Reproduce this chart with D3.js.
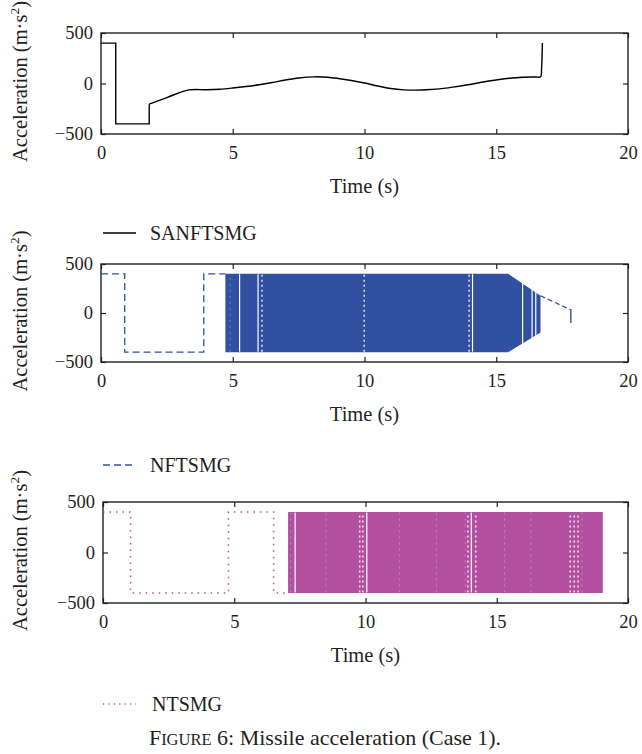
<!DOCTYPE html>
<html><head><meta charset="utf-8">
<script src="https://cdn.jsdelivr.net/npm/d3@7/dist/d3.min.js"></script>
<style>
html,body{margin:0;padding:0;background:#fff;}
svg text{font-family:"Liberation Serif","Times New Roman","DejaVu Serif",serif;fill:#231f20;}
</style></head>
<body><svg id="c" width="642" height="754"></svg>
<script>
// ---------- data ----------
const xTicks = [0, 5, 10, 15, 20];
const yTicks = [-500, 0, 500];
const xTitle = "Time (s)";
const seriesNames = ["SANFTSMG", "NFTSMG", "NTSMG"];

// SANFTSMG (smooth)
const sanTime  = [0, 0.56, 0.56, 1.83, 1.83, 2.5, 3.33, 4.0, 4.5, 5.0, 5.5, 6.0, 6.5, 7.0, 7.5, 8.1, 8.6, 9.0, 9.5, 10.0, 10.5, 11.0, 11.5, 11.9, 12.5, 13.0, 13.5, 14.0, 14.5, 15.0, 15.5, 16.0, 16.5, 16.68, 16.72, 16.75];
const sanAccel = [400, 400, -400, -400, -205, -139, -63, -62, -57, -45, -30, -12, 10, 35, 55, 66, 62, 50, 30, 5, -25, -50, -63, -66, -60, -48, -30, -10, 15, 35, 52, 62, 65, 66, 150, 400];

// NFTSMG
const nfPreTime   = [0, 0.9, 0.9, 3.9, 3.9, 4.72];
const nfPreAccel  = [400, 400, -400, -400, 400, 400];
const nfBandTime  = [4.72, 15.45, 16.68];
const nfBandUpper = [400, 400, 176];
const nfBandLower = [-400, -400, -199];
const nfTailTime  = [16.68, 17.83];
const nfTailAccel = [176, 32];
const nfSpikeTime  = [17.83, 17.83];
const nfSpikeAccel = [42, -103];
const nfGapTime   = [4.9, 5.26, 5.96, 6.11, 9.99, 13.97, 14.1, 16.0, 16.36, 16.5];
const nfGapKind   = ["faint", "line", "line", "dots", "dots", "dots", "line", "line", "line", "line"];

// NTSMG
const ntPreTime  = [0, 1.05, 1.05, 4.78, 4.78, 6.5, 6.5, 7.05];
const ntPreAccel = [400, 400, -400, -400, 400, 400, -400, -400];
const ntBandTime  = [7.05, 19.04];
const ntBandUpper = [400, 400];
const ntBandLower = [-400, -400];
const ntGapTime = [7.15, 7.32, 9.78, 9.9, 10.05, 13.8, 13.9, 14.03, 14.2, 17.8, 17.95, 18.1, 18.25, 8.5, 11.3, 12.7, 15.3, 16.3];
const ntGapKind = ["faint", "line", "dots", "dots", "line", "faint", "dots", "line", "dots", "dots", "dots", "dots", "faint", "faint", "faint", "faint", "faint", "faint"];

const caption = "Missile acceleration (Case 1).";

// ---------- layout ----------
const blue = "#3150a1", magenta = "#b24f9f";
const svg = d3.select("#c");
const panels = [
  {left: 101, right: 628, top: 33, bottom: 134},
  {left: 101, right: 628, top: 264, bottom: 362},
  {left: 103, right: 628, top: 502, bottom: 603}
];
const serif = "'Liberation Serif','Times New Roman','DejaVu Serif',serif";

function drawFrame(p) {
  const x = d3.scaleLinear().domain([0, 20]).range([p.left, p.right]);
  const y = d3.scaleLinear().domain([-500, 500]).range([p.bottom, p.top]);
  const g = svg.append("g");
  const fmt = d => d < 0 ? "\u2212" + Math.abs(d) : String(d);
  const ax = (gen, tr) => {
    const a = g.append("g").attr("transform", tr).call(gen).attr("font-family", serif);
    a.select(".domain").remove();
    a.selectAll("line").attr("stroke", "#231f20").attr("stroke-width", 1.2);
    a.selectAll("text").attr("font-size", 18.5).attr("font-family", serif).attr("fill", "#231f20");
    return a;
  };
  ax(d3.axisBottom(x).tickValues(xTicks).tickSizeInner(-5).tickSizeOuter(0).tickPadding(12).tickFormat(fmt), `translate(0,${p.bottom})`);
  ax(d3.axisTop(x).tickValues(xTicks).tickSizeInner(-5).tickSizeOuter(0).tickFormat(""), `translate(0,${p.top})`);
  ax(d3.axisLeft(y).tickValues(yTicks).tickSizeInner(-5).tickSizeOuter(0).tickPadding(8).tickFormat(fmt), `translate(${p.left},0)`);
  ax(d3.axisRight(y).tickValues(yTicks).tickSizeInner(-5).tickSizeOuter(0).tickFormat(""), `translate(${p.right},0)`);
  g.append("rect").attr("x", p.left).attr("y", p.top).attr("width", p.right - p.left).attr("height", p.bottom - p.top)
    .attr("fill", "none").attr("stroke", "#231f20").attr("stroke-width", 1.4);
  g.append("text").attr("x", (p.left + p.right) / 2).attr("y", p.bottom + 59).attr("text-anchor", "middle")
    .attr("font-size", 20.5).attr("font-family", serif).text(xTitle);
  const cy = (p.top + p.bottom) / 2 - 2;
  const t = g.append("text").attr("transform", `translate(27,${cy}) rotate(-90)`).attr("text-anchor", "middle")
    .attr("font-size", 20.5).attr("font-family", serif);
  t.append("tspan").text("Acceleration (m\u00b7s");
  t.append("tspan").attr("font-size", 13.5).attr("dy", -8).text("2");
  t.append("tspan").attr("dy", 8).text(")");
  return {x, y, g};
}

function pairs(ts, vs) { return ts.map((t, i) => [t, vs[i]]); }

// Panel 1
{
  const {x, y, g} = drawFrame(panels[0]);
  g.append("path").attr("d", d3.line().x(d => x(d[0])).y(d => y(d[1]))(pairs(sanTime.slice(0, 5), sanAccel.slice(0, 5))))
    .attr("fill", "none").attr("stroke", "#000").attr("stroke-width", 1.4);
  g.append("path").attr("d", d3.line().x(d => x(d[0])).y(d => y(d[1])).curve(d3.curveCatmullRom)(pairs(sanTime.slice(4), sanAccel.slice(4))))
    .attr("fill", "none").attr("stroke", "#000").attr("stroke-width", 1.4);
}

function drawBand(g, x, y, ts, up, lo, color) {
  const area = d3.area().x((d, i) => x(ts[i])).y0((d, i) => y(lo[i])).y1((d, i) => y(up[i]));
  g.append("path").attr("d", area(ts)).attr("fill", color);
}
function drawGaps(g, x, y, ts, kinds, lo, hi) {
  ts.forEach((t, i) => {
    const k = kinds[i];
    const l = g.append("line").attr("x1", x(t)).attr("x2", x(t)).attr("y1", y(lo)).attr("y2", y(hi)).attr("stroke", "#fff");
    if (k === "line") l.attr("stroke-width", 1.2);
    else if (k === "dots") l.attr("stroke-width", 1.6).attr("stroke-opacity", 0.8).attr("stroke-dasharray", "2,3");
    else l.attr("stroke-width", 0.8).attr("stroke-opacity", 0.4).attr("stroke-dasharray", "2,4");
  });
}

// Panel 2
{
  const {x, y, g} = drawFrame(panels[1]);
  const ln = d3.line().x(d => x(d[0])).y(d => y(d[1]));
  g.append("path").attr("d", ln(pairs(nfPreTime, nfPreAccel))).attr("fill", "none").attr("stroke", blue)
    .attr("stroke-width", 1.3).attr("stroke-dasharray", "7,4");
  drawBand(g, x, y, nfBandTime, nfBandUpper, nfBandLower, blue);
  drawGaps(g, x, y, nfGapTime, nfGapKind, -395, 395);
  g.append("path").attr("d", ln(pairs(nfTailTime, nfTailAccel))).attr("fill", "none").attr("stroke", blue)
    .attr("stroke-width", 1.3).attr("stroke-dasharray", "5,3");
  g.append("path").attr("d", ln(pairs(nfSpikeTime, nfSpikeAccel))).attr("fill", "none").attr("stroke", blue).attr("stroke-width", 1.4);
}

// Panel 3
{
  const {x, y, g} = drawFrame(panels[2]);
  const ln = d3.line().x(d => x(d[0])).y(d => y(d[1]));
  g.append("path").attr("d", ln(pairs(ntPreTime, ntPreAccel))).attr("fill", "none").attr("stroke", magenta)
    .attr("stroke-width", 1.5).attr("stroke-dasharray", "1.5,5");
  drawBand(g, x, y, ntBandTime, ntBandUpper, ntBandLower, magenta);
  drawGaps(g, x, y, ntGapTime, ntGapKind, -395, 395);
}

// Legends
const legends = [
  {y: 233, color: "#000", dash: null, name: seriesNames[0], tx: 150},
  {y: 465, color: blue, dash: "7,4", name: seriesNames[1], tx: 150},
  {y: 704, color: magenta, dash: "1.2,4.2", name: seriesNames[2], tx: 152}
];
legends.forEach(L => {
  const l = svg.append("line").attr("x1", 103).attr("x2", 136).attr("y1", L.y).attr("y2", L.y)
    .attr("stroke", L.color).attr("stroke-width", 1.3);
  if (L.dash) l.attr("stroke-dasharray", L.dash);
  svg.append("text").attr("x", L.tx).attr("y", L.y + 7).attr("font-size", 20).attr("font-family", serif).text(L.name);
});

// Caption
const cap = svg.append("text").attr("x", 325).attr("y", 745).attr("text-anchor", "middle").attr("font-size", 22).attr("font-family", serif);
cap.append("tspan").text("F");
cap.append("tspan").attr("font-size", 16.5).text("IGURE");
cap.append("tspan").text(" 6: " + caption);
</script></body></html>
